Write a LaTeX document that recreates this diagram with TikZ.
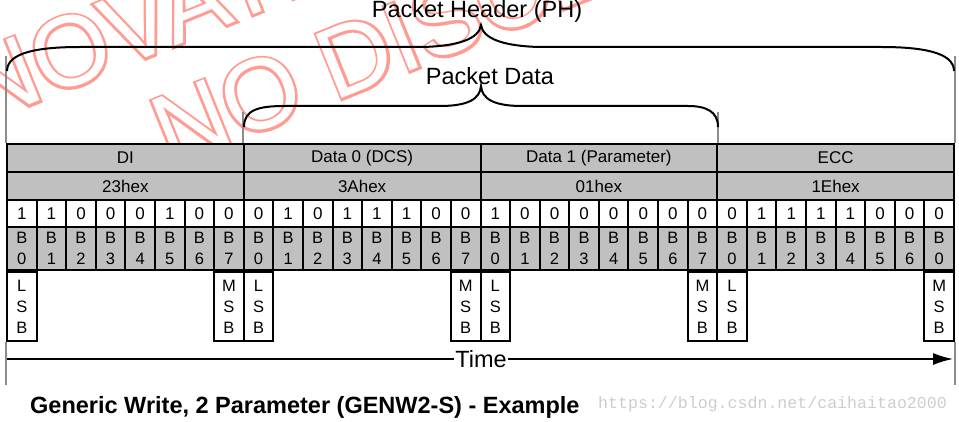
\documentclass[tikz,border=0pt]{standalone}
\usepackage{fontspec}
\setmainfont{Liberation Sans}
\newfontfamily\csdnfont{Liberation Mono}
\newfontfamily\wmfont{Liberation Sans}
\newfontfamily\wmboldfont[FakeBold=5]{Liberation Sans}
\usetikzlibrary{arrows.meta}
\definecolor{cellgray}{RGB}{192,192,192}
\definecolor{guidegray}{RGB}{140,140,140}
\definecolor{wmred}{RGB}{255,155,145}
\definecolor{csdngray}{RGB}{205,205,205}
\begin{document}
\begin{tikzpicture}[x=1pt,y=-1pt,
  graycell/.style={draw, fill=cellgray, line width=2pt, inner sep=0pt},
  whitecell/.style={draw, fill=white, line width=2pt, inner sep=0pt},
  tbl/.style={font=\fontsize{17}{20}\selectfont},
  bittxt/.style={font=\fontsize{17}{20}\selectfont},
  smalltxt/.style={font=\fontsize{16.5}{21}\selectfont, align=center},
  bigtxt/.style={font=\fontsize{23.5}{28}\selectfont},
  bracepath/.style={line width=2pt},
  guide/.style={draw=guidegray, line width=2pt},
  wmred/.style={font=\wmboldfont\fontsize{100}{100}\selectfont, text=wmred, inner sep=0pt, rotate=22, anchor=base west},
  wmwhite/.style={font=\wmfont\fontsize{100}{100}\selectfont, text=white, inner sep=0pt, rotate=22, anchor=base west}
]
\useasboundingbox (0,0) rectangle (959,422);
% watermark
\begin{scope}
\clip (0,0) rectangle (959,144);
\node[wmred] (wma) at (-20,125) {NOVATE};
\node[wmwhite] (wmaw) at (wma.base west) {NOVATE};
\node[wmred] (wmb) at (170,168) {NO DISCLOSURE};
\node[wmwhite] (wmbw) at (wmb.base west) {NO DISCLOSURE};
\end{scope}
% byte rows
\def\bw{236.75}
\def\bb{29.59375}
\foreach \nm/\hx [count=\i from 0] in {DI/23hex, {Data 0 (DCS)}/3Ahex, {Data 1 (Parameter)}/01hex, ECC/1Ehex}{
  \node[graycell, tbl, minimum width=\bw pt, minimum height=28pt] (name\i) at ({7+(\i+0.5)*\bw},158) {\nm};
  \node[graycell, tbl, minimum width=\bw pt, minimum height=28pt] (hex\i) at ({7+(\i+0.5)*\bw},186) {\hx};
}
% bits
\foreach \v/\l [count=\k from 0] in {1/0,1/1,0/2,0/3,0/4,1/5,0/6,0/7,
  0/0,1/1,0/2,1/3,1/4,1/5,0/6,0/7,
  1/0,0/1,0/2,0/3,0/4,0/5,0/6,0/7,
  0/0,1/1,1/2,1/3,1/4,0/5,0/6,0/0}{
  \node[whitecell, bittxt, minimum width=\bb pt, minimum height=27pt] (bit\k) at ({7+(\k+0.5)*\bb},213.5) {\v};
  \node[graycell, smalltxt, minimum width=\bb pt, minimum height=43pt] (lbl\k) at ({7+(\k+0.5)*\bb},248.5) {B\\\l};
}
\foreach \k in {0,8,16,24}{
  \node[whitecell, smalltxt, minimum width=\bb pt, minimum height=69pt, anchor=north] (lsb\k) at (lbl\k.south) {L\\S\\B};
}
\foreach \k in {7,15,23,31}{
  \node[whitecell, smalltxt, minimum width=\bb pt, minimum height=69pt, anchor=north] (msb\k) at (lbl\k.south) {M\\S\\B};
}
% guides
\draw[guide] (name0.north west) -- ++(0,-87);
\draw[guide] (name3.north east) -- ++(0,-87);
\draw[guide] (name1.north west) -- ++(0,-31);
\draw[guide] (name2.north east) -- ++(0,-31);
\draw[guide] (lsb0.south west) -- ++(0,43);
\draw[guide] (msb31.south east) -- ++(0,43);
% braces
\coordinate (phtip) at (481,25);
\coordinate (pdtip) at (481,86);
\draw[bracepath] (7,71) .. controls (7,52) and (40,47) .. (80,47) -- (423,47)
  .. controls (458,46) and (479,39) .. (phtip)
  .. controls (483,39) and (504,46) .. (539,47) -- (881,47)
  .. controls (921,47) and (954,52) .. (954,71);
\draw[bracepath] (244,127) .. controls (244,110) and (258,106) .. (285,106) -- (440,106)
  .. controls (468,106) and (480,99) .. (pdtip)
  .. controls (482,99) and (494,106) .. (522,106) -- (688,106)
  .. controls (707,106) and (718,112) .. (718,127);
\node[bigtxt, anchor=base] (ph) at (477,18) {Packet Header (PH)};
\node[bigtxt, anchor=base] (pd) at (490,85) {Packet Data};
% time arrow
\coordinate (tstart) at (7,359);
\coordinate (tend) at (953,359);
\draw[line width=1.5pt, -{Latex[length=20pt,width=12pt]}] (tstart) -- (tend);
\node[bigtxt, fill=white, inner sep=1pt, text depth=0pt] (time) at (481,359) {Time};
% title
\node[font=\fontsize{23.5}{28}\selectfont\bfseries, anchor=base west, inner sep=0pt] (title) at (30,413) {Generic Write, 2 Parameter (GENW2-S) - Example};
\node[font=\csdnfont\fontsize{16.6}{20}\selectfont, text=csdngray, anchor=base west, inner sep=0pt] (csdn) at (598,408) {https://blog.csdn.net/caihaitao2000};
\end{tikzpicture}
\end{document}
